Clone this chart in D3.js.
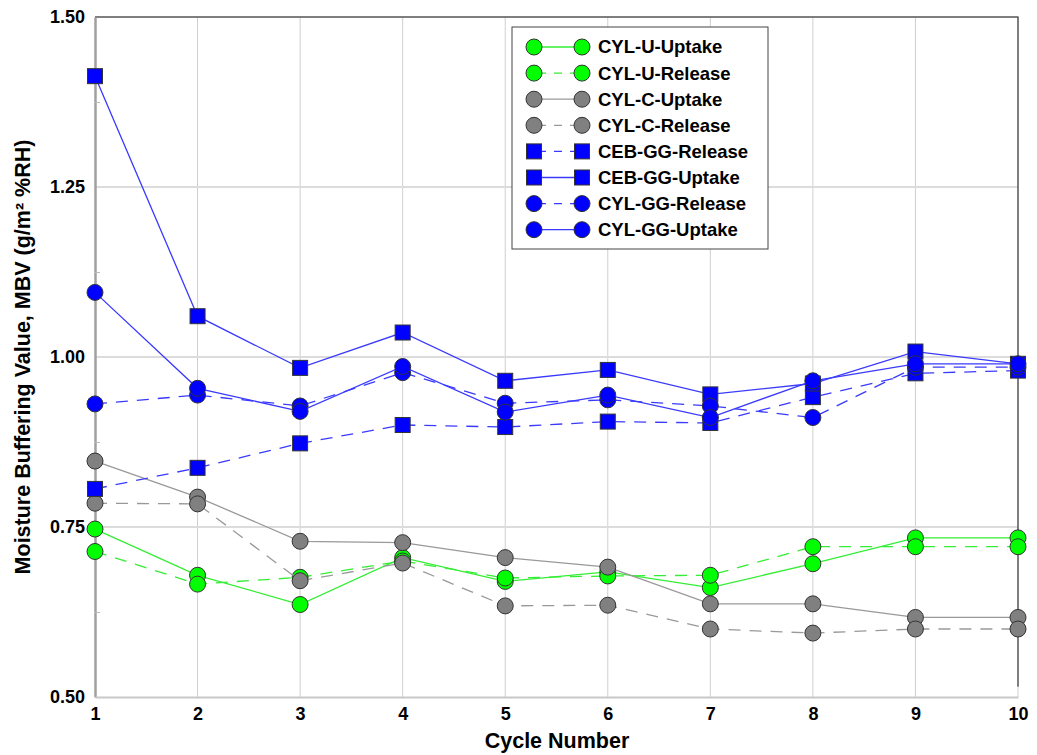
<!DOCTYPE html>
<html>
<head>
<meta charset="utf-8">
<script src="https://cdn.jsdelivr.net/npm/d3@7"></script>
<style>
  html, body { margin: 0; padding: 0; background: #fff; }
  svg { display: block; font-family: "Liberation Sans", Arial, sans-serif; }
</style>
</head>
<body>
<svg id="chart" width="1037" height="755"></svg>
<script>
// ---- data ----
const cycles = [1, 2, 3, 4, 5, 6, 7, 8, 9, 10];
const yTicks = [0.50, 0.75, 1.00, 1.25, 1.50];
const yMinorTicks = [0.625, 0.875, 1.125, 1.375];

const seriesNames = ["CYL-U-Uptake", "CYL-U-Release", "CYL-C-Uptake", "CYL-C-Release",
                     "CEB-GG-Release", "CEB-GG-Uptake", "CYL-GG-Release", "CYL-GG-Uptake"];

const cylUUptake   = [0.747, 0.679, 0.636, 0.705, 0.670, 0.684, 0.661, 0.696, 0.734, 0.734];
const cylURelease  = [0.714, 0.666, 0.676, 0.700, 0.675, 0.678, 0.679, 0.721, 0.721, 0.721];
const cylCUptake   = [0.847, 0.794, 0.729, 0.727, 0.705, 0.691, 0.637, 0.637, 0.617, 0.617];
const cylCRelease  = [0.785, 0.784, 0.671, 0.697, 0.634, 0.635, 0.600, 0.594, 0.600, 0.600];
const cebGGRelease = [0.806, 0.837, 0.873, 0.900, 0.897, 0.905, 0.903, 0.941, 0.976, 0.980];
const cebGGUptake  = [1.413, 1.060, 0.984, 1.036, 0.965, 0.981, 0.945, 0.961, 1.008, 0.990];
const cylGGRelease = [0.931, 0.944, 0.928, 0.977, 0.932, 0.937, 0.928, 0.911, 0.985, 0.985];
const cylGGUptake  = [1.095, 0.954, 0.920, 0.986, 0.919, 0.944, 0.911, 0.965, 0.990, 0.990];

const seriesValues = [cylUUptake, cylURelease, cylCUptake, cylCRelease,
                      cebGGRelease, cebGGUptake, cylGGRelease, cylGGUptake];

// ---- styles ----
const styles = [
  { fill: "#00ff00", line: "#33ee33", dash: null,   shape: "circle" },
  { fill: "#00ff00", line: "#33ee33", dash: "12,9", shape: "circle" },
  { fill: "#808080", line: "#999999", dash: null,   shape: "circle" },
  { fill: "#808080", line: "#999999", dash: "12,9", shape: "circle" },
  { fill: "#0000ff", line: "#3a3aff", dash: "12,9", shape: "square" },
  { fill: "#0000ff", line: "#3a3aff", dash: null,   shape: "square" },
  { fill: "#0000ff", line: "#3a3aff", dash: "12,9", shape: "circle" },
  { fill: "#0000ff", line: "#3a3aff", dash: null,   shape: "circle" }
];

const svg = d3.select("#chart");
const X0 = 95, X1 = 1018, Y0 = 697, Y1 = 17;

const x = d3.scaleLinear().domain([1, 10]).range([X0, X1]);
const y = d3.scaleLinear().domain([0.5, 1.5]).range([Y0, Y1]);

// gridlines
const grid = svg.append("g");
grid.selectAll("line.v").data(cycles.slice(1, -1)).enter().append("line")
  .attr("x1", d => x(d)).attr("x2", d => x(d))
  .attr("y1", Y1).attr("y2", Y0)
  .attr("stroke", "#cfcfcf").attr("stroke-width", 1);
grid.selectAll("line.h").data(yTicks.slice(1, -1)).enter().append("line")
  .attr("x1", X0).attr("x2", X1)
  .attr("y1", d => y(d)).attr("y2", d => y(d))
  .attr("stroke", "#dcdcdc").attr("stroke-width", 2);

// frame
svg.append("line").attr("x1", X0).attr("x2", X1 + 0.5).attr("y1", Y1).attr("y2", Y1)
  .attr("stroke", "#555").attr("stroke-width", 1.5);
svg.append("line").attr("x1", X1).attr("x2", X1).attr("y1", Y1).attr("y2", y(0.515))
  .attr("stroke", "#555").attr("stroke-width", 1.5);
svg.append("line").attr("x1", X1).attr("x2", X1).attr("y1", y(0.515)).attr("y2", Y0)
  .attr("stroke", "#cfcfcf").attr("stroke-width", 1);

// axes
const yAxis = d3.axisLeft(y).tickValues(yTicks).tickFormat(d3.format(".2f")).tickSize(0).tickPadding(10);
const gy = svg.append("g").attr("transform", `translate(${X0},0)`).call(yAxis);
gy.select(".domain").attr("stroke", "#a0a0a0").attr("stroke-width", 2.5);
gy.selectAll("text").attr("font-size", 18).attr("font-weight", "bold").attr("fill", "#000")
  .attr("font-family", "Liberation Sans, Arial, sans-serif");

const yMinor = d3.axisRight(y).tickValues(yMinorTicks).tickFormat("").tickSize(5);
const gym = svg.append("g").attr("transform", `translate(${X0},0)`).call(yMinor);
gym.select(".domain").remove();
gym.selectAll("line").attr("stroke", "#bbb");

const xAxis = d3.axisBottom(x).tickValues(cycles).tickFormat(d3.format("d")).tickSize(0).tickPadding(10);
const gx = svg.append("g").attr("transform", `translate(0,${Y0})`).call(xAxis);
gx.select(".domain").attr("stroke", "#c8c8c8").attr("stroke-width", 2);
gx.selectAll("text").attr("font-size", 18).attr("font-weight", "bold").attr("fill", "#000")
  .attr("font-family", "Liberation Sans, Arial, sans-serif");

// axis titles
svg.append("text")
  .attr("x", 557).attr("y", 748)
  .attr("text-anchor", "middle")
  .attr("font-size", 21.5).attr("font-weight", "bold")
  .text("Cycle Number");

svg.append("text")
  .attr("transform", "translate(30,357) rotate(-90)")
  .attr("text-anchor", "middle")
  .attr("font-size", 21.5).attr("font-weight", "bold")
  .text("Moisture Buffering Value, MBV (g/m² %RH)");

// series
const R = 8, S = 15;
function drawMarker(g, shape, cx, cy, fill) {
  if (shape === "circle") {
    g.append("circle").attr("cx", cx).attr("cy", cy).attr("r", R)
      .attr("fill", fill).attr("stroke", "#333").attr("stroke-width", 1);
  } else {
    g.append("rect").attr("x", cx - S / 2).attr("y", cy - S / 2).attr("width", S).attr("height", S)
      .attr("fill", fill).attr("stroke", "#333").attr("stroke-width", 1);
  }
}

const line = d3.line().x((d, i) => x(cycles[i])).y(d => y(d));

seriesValues.forEach((vals, k) => {
  const st = styles[k];
  const g = svg.append("g");
  g.append("path").datum(vals).attr("d", line)
    .attr("fill", "none").attr("stroke", st.line).attr("stroke-width", 1.3)
    .attr("stroke-dasharray", st.dash);
  vals.forEach((v, i) => drawMarker(g, st.shape, x(cycles[i]), y(v), st.fill));
});

// legend
const lg = svg.append("g");
lg.append("rect").attr("x", 512).attr("y", 27).attr("width", 256).attr("height", 222)
  .attr("fill", "#fff").attr("stroke", "#444").attr("stroke-width", 1);
seriesNames.forEach((name, k) => {
  const st = styles[k];
  const cy = 47 + k * 26.1;
  const g = lg.append("g");
  g.append("line").attr("x1", 534).attr("x2", 582).attr("y1", cy).attr("y2", cy)
    .attr("stroke", st.line).attr("stroke-width", 1.3)
    .attr("stroke-dasharray", st.dash ? "8,8" : null)
    .attr("stroke-dashoffset", st.dash ? -4 : null);
  drawMarker(g, st.shape, 534, cy, st.fill);
  drawMarker(g, st.shape, 582, cy, st.fill);
  g.append("text").attr("x", 598).attr("y", cy).attr("dy", "0.35em")
    .attr("font-size", 18.5).attr("font-weight", "bold").text(name);
});
</script>
</body>
</html>
